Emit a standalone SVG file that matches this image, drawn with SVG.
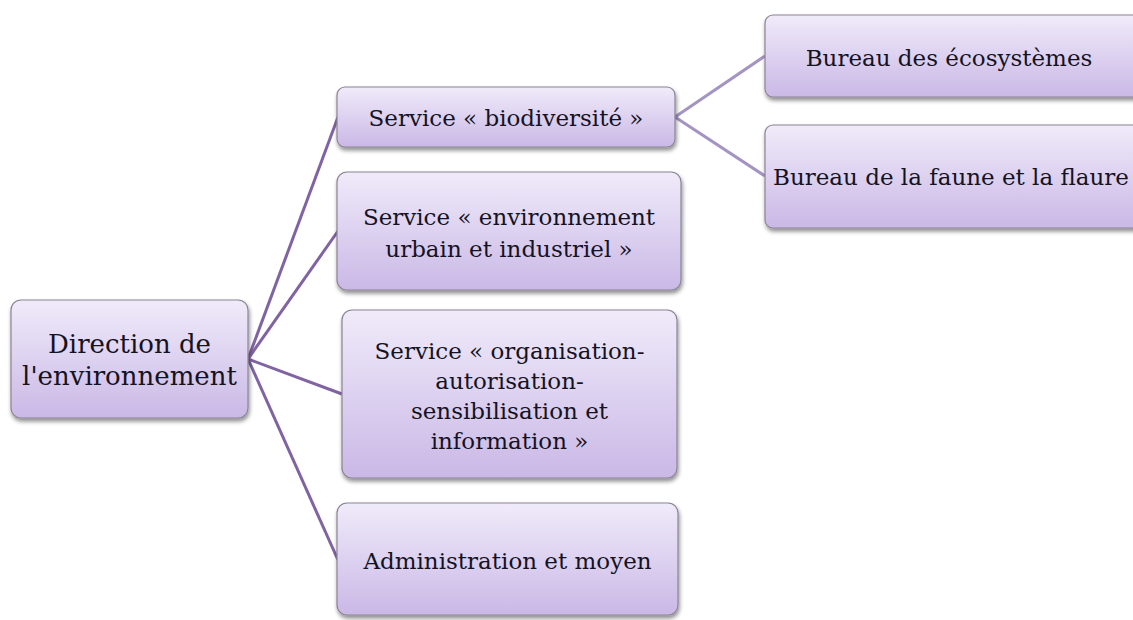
<svg xmlns="http://www.w3.org/2000/svg" width="1133" height="620" viewBox="0 0 1133 620">
<defs>
<linearGradient id="g" x1="0" y1="0" x2="0" y2="1">
<stop offset="0" stop-color="#f0ebfa"/>
<stop offset="1" stop-color="#cab8e6"/>
</linearGradient>
<filter id="sh" x="-10%" y="-10%" width="120%" height="130%">
<feGaussianBlur in="SourceAlpha" stdDeviation="2"/>
<feOffset dx="1" dy="3"/>
<feComponentTransfer><feFuncA type="linear" slope="0.45"/></feComponentTransfer>
<feMerge><feMergeNode/><feMergeNode in="SourceGraphic"/></feMerge>
</filter>
</defs>
<style>
.box{fill:url(#g);stroke:#8a8494;stroke-width:1.2;filter:url(#sh)}
text{font-family:"DejaVu Serif","Liberation Serif",serif;font-size:23px;fill:#15131f;text-anchor:middle}
.big{font-size:26px}
.c1{stroke:#8064a2;stroke-width:3;fill:none}
.c2{stroke:#a494c4;stroke-width:3;fill:none}
</style>
<rect width="1133" height="620" fill="#fff"/>
<g id="connectors">
<line class="c1" x1="248" y1="359" x2="338" y2="117"/>
<line class="c1" x1="248" y1="359" x2="338" y2="231"/>
<line class="c1" x1="248" y1="359" x2="342" y2="394"/>
<line class="c1" x1="248" y1="359" x2="338" y2="560"/>
<line class="c2" x1="675" y1="117" x2="765" y2="56"/>
<line class="c2" x1="675" y1="117" x2="765" y2="176"/>
</g>
<g id="n-direction">
<rect class="box" x="11" y="300" width="237" height="118" rx="10"/>
<text class="big" x="129.5" y="353">Direction de</text>
<text class="big" x="129.5" y="385">l'environnement</text>
</g>
<g id="n-biodiversite">
<rect class="box" x="337" y="87" width="338" height="60" rx="8"/>
<text x="506" y="126">Service « biodiversité »</text>
</g>
<g id="n-environnement">
<rect class="box" x="337" y="172" width="344" height="118" rx="10"/>
<text x="509" y="225">Service « environnement</text>
<text x="509" y="257">urbain et industriel »</text>
</g>
<g id="n-organisation">
<rect class="box" x="342" y="310" width="335" height="168" rx="10"/>
<text x="509.5" y="359">Service «  organisation-</text>
<text x="509.5" y="389">autorisation-</text>
<text x="509.5" y="419">sensibilisation et</text>
<text x="509.5" y="449">information »</text>
</g>
<g id="n-administration">
<rect class="box" x="337" y="503" width="341" height="112" rx="10"/>
<text x="507.5" y="569">Administration et moyen</text>
</g>
<g id="n-ecosystemes">
<rect class="box" x="765" y="15" width="380" height="82" rx="8"/>
<text x="949" y="66">Bureau des écosystèmes</text>
</g>
<g id="n-faune">
<rect class="box" x="765" y="125" width="380" height="103" rx="8"/>
<text x="951" y="185">Bureau de la faune et la flaure</text>
</g>
</svg>
